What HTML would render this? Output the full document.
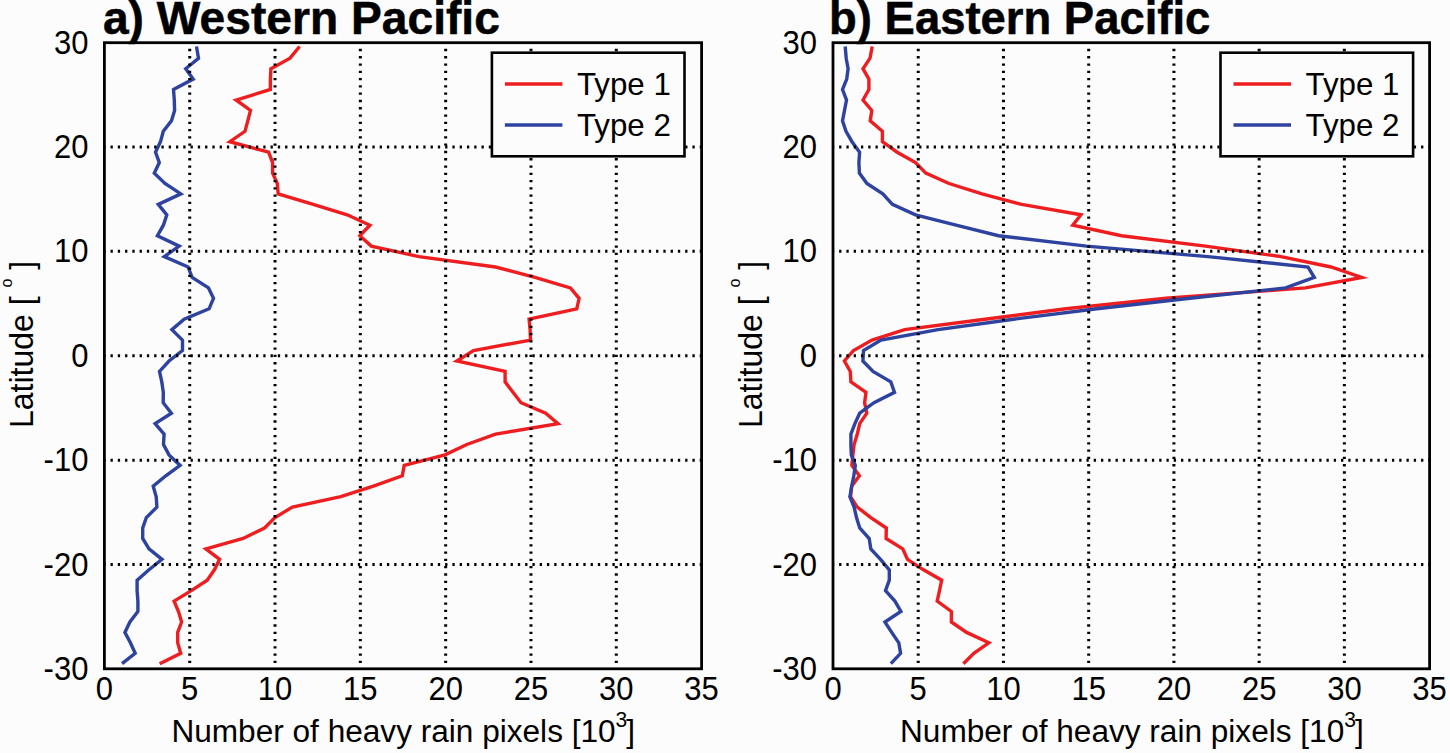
<!DOCTYPE html>
<html><head><meta charset="utf-8"><style>
html,body{margin:0;padding:0;background:#fcfcfc;}
svg{display:block;}
.t{font-family:"Liberation Sans",sans-serif;font-size:30px;fill:#000;}
.sup{font-size:19px;}
.ti{font-family:"Liberation Sans",sans-serif;font-size:43px;font-weight:bold;fill:#000;stroke:#000;stroke-width:0.5px;}
</style></head><body>
<svg width="1450" height="753" viewBox="0 0 1450 753">
<rect width="1450" height="753" fill="#fcfcfc"/>
<polyline points="299.6,46.5 290.0,58.2 270.9,68.7 270.4,79.1 270.4,89.5 236.1,100.0 250.5,110.4 247.8,120.9 245.0,131.3 229.8,141.7 268.6,152.2 272.6,162.6 272.6,173.1 277.3,183.5 278.2,193.9 313.2,204.4 347.2,214.8 369.9,225.2 359.8,235.7 371.3,246.1 419.0,256.6 495.5,267.0 535.0,277.4 570.4,287.9 579.1,298.3 576.8,308.8 529.1,319.2 530.1,329.6 530.5,340.1 473.5,350.5 456.8,361.0 505.1,371.4 505.1,381.9 513.0,392.3 521.0,402.7 545.7,413.2 558.0,423.6 495.5,434.1 466.8,444.5 445.0,454.9 404.2,465.4 402.3,475.8 373.4,486.2 340.8,496.7 292.4,507.1 275.0,517.6 264.5,528.0 243.1,538.5 205.9,548.9 219.6,559.3 214.4,569.8 207.2,580.2 191.3,590.6 174.1,601.1 178.5,611.5 181.6,622.0 177.7,632.4 177.7,642.8 180.7,653.3 159.7,663.7" fill="none" stroke="#ee1d1f" stroke-width="3.4" stroke-linejoin="miter" stroke-miterlimit="10"/>
<polyline points="196.5,46.5 198.5,58.2 185.7,68.7 193.2,79.1 173.5,89.5 174.3,100.0 174.6,110.4 171.4,120.9 163.3,131.3 160.5,141.7 155.5,152.2 159.3,162.6 154.3,173.1 165.0,183.5 180.8,193.9 158.3,204.4 166.8,214.8 163.4,225.2 157.4,235.7 179.2,246.1 164.3,256.6 188.1,267.0 192.1,277.4 208.5,287.9 213.5,298.3 209.1,308.8 184.1,319.2 171.9,329.6 182.5,340.1 182.5,350.5 169.0,361.0 159.5,371.4 161.8,381.9 163.3,392.3 163.2,402.7 171.4,413.2 155.1,423.6 164.1,434.1 163.5,444.5 169.0,454.9 180.1,465.4 165.8,475.8 153.2,486.2 156.2,496.7 156.9,507.1 146.3,517.6 142.7,528.0 142.7,538.5 149.0,548.9 162.0,559.3 149.0,569.8 137.1,580.2 137.1,590.6 137.9,601.1 137.9,611.5 129.9,622.0 124.9,632.4 130.4,642.8 135.2,653.3 122.0,663.7" fill="none" stroke="#2e42a0" stroke-width="3.4" stroke-linejoin="miter" stroke-miterlimit="10"/>
<path d="M104.4,146.95H701.6 M104.4,251.35H701.6 M104.4,355.75H701.6 M104.4,460.15H701.6 M104.4,564.55H701.6" stroke="#000" stroke-width="3.0" stroke-dasharray="2.3 4.974" stroke-dashoffset="1.15" fill="none"/>
<path d="M189.71,42.7V668.8 M275.03,42.7V668.8 M360.34,42.7V668.8 M445.66,42.7V668.8 M530.97,42.7V668.8 M616.29,42.7V668.8" stroke="#000" stroke-width="3.0" stroke-dasharray="2.3 4.985" stroke-dashoffset="1.15" fill="none"/>
<rect x="491.9" y="52.7" width="192.6" height="103.6" fill="#fcfcfc" stroke="#000" stroke-width="2.6"/>
<line x1="504.9" y1="84" x2="562.4" y2="84" stroke="#ee1d1f" stroke-width="3.4"/>
<line x1="504.9" y1="125" x2="562.4" y2="125" stroke="#2e42a0" stroke-width="3.4"/>
<text transform="translate(576.90,95.30) scale(1,1.02)" class="t" style="font-size:31.3px">Type 1</text>
<text transform="translate(576.90,136.30) scale(1,1.02)" class="t" style="font-size:31.3px">Type 2</text>
<rect x="104.4" y="42.7" width="597.2" height="626.1" fill="none" stroke="#000" stroke-width="2.8"/>
<text transform="translate(88.40,53.55) scale(1,1.07)" class="t" style="font-size:31px" text-anchor="end">30</text>
<text transform="translate(88.40,157.95) scale(1,1.07)" class="t" style="font-size:31px" text-anchor="end">20</text>
<text transform="translate(88.40,262.35) scale(1,1.07)" class="t" style="font-size:31px" text-anchor="end">10</text>
<text transform="translate(88.40,366.75) scale(1,1.07)" class="t" style="font-size:31px" text-anchor="end">0</text>
<text transform="translate(88.40,471.15) scale(1,1.07)" class="t" style="font-size:31px" text-anchor="end">-10</text>
<text transform="translate(88.40,575.55) scale(1,1.07)" class="t" style="font-size:31px" text-anchor="end">-20</text>
<text transform="translate(88.40,679.95) scale(1,1.07)" class="t" style="font-size:31px" text-anchor="end">-30</text>
<text transform="translate(104.40,700.30) scale(1,1.07)" class="t" style="font-size:31px" text-anchor="middle">0</text>
<text transform="translate(189.71,700.30) scale(1,1.07)" class="t" style="font-size:31px" text-anchor="middle">5</text>
<text transform="translate(275.03,700.30) scale(1,1.07)" class="t" style="font-size:31px" text-anchor="middle">10</text>
<text transform="translate(360.34,700.30) scale(1,1.07)" class="t" style="font-size:31px" text-anchor="middle">15</text>
<text transform="translate(445.66,700.30) scale(1,1.07)" class="t" style="font-size:31px" text-anchor="middle">20</text>
<text transform="translate(530.97,700.30) scale(1,1.07)" class="t" style="font-size:31px" text-anchor="middle">25</text>
<text transform="translate(616.29,700.30) scale(1,1.07)" class="t" style="font-size:31px" text-anchor="middle">30</text>
<text transform="translate(701.60,700.30) scale(1,1.07)" class="t" style="font-size:31px" text-anchor="middle">35</text>
<text transform="translate(171.40,742.40) scale(1,1.02)" class="t" style="font-size:31.6px">Number of heavy rain pixels [10<tspan dy="-15" style="font-size:21px">3</tspan><tspan dy="15" dx="-1">]</tspan></text>
<text transform="translate(33.0,428.0) rotate(-90) scale(1,1.06)" class="t" style="font-size:32px">Latitude [ <tspan dy="-20" style="font-size:16px">o</tspan><tspan dy="20"> ]</tspan></text>
<text x="102.9" y="34.3" class="ti" style="font-size:46.2px" textLength="397.0" lengthAdjust="spacingAndGlyphs">a) Western Pacific</text>
<polyline points="872.2,46.5 870.0,58.2 863.0,68.7 868.9,79.1 868.9,89.5 863.0,100.0 871.8,110.4 870.2,120.9 882.4,131.3 882.4,141.7 897.2,152.2 915.5,162.6 925.8,173.1 949.0,183.5 982.0,193.9 1021.7,204.4 1080.9,214.8 1072.8,225.2 1121.5,235.7 1205.5,246.1 1281.0,256.6 1331.0,267.0 1361.8,277.4 1305.5,287.9 1166.0,298.3 1066.0,308.8 985.0,319.2 904.6,329.6 872.0,340.1 853.5,350.5 844.4,361.0 850.3,371.4 850.9,381.9 866.0,392.3 864.6,402.7 866.8,413.2 859.7,423.6 857.3,434.1 854.1,444.5 852.9,454.9 851.8,465.4 859.4,475.8 851.7,486.2 850.5,496.7 857.3,507.1 870.8,517.6 886.3,528.0 886.1,538.5 902.7,548.9 907.5,559.3 923.5,569.8 941.7,580.2 939.5,590.6 937.2,601.1 951.4,611.5 951.4,622.0 966.6,632.4 988.8,642.8 973.8,653.3 963.4,663.7" fill="none" stroke="#ee1d1f" stroke-width="3.4" stroke-linejoin="miter" stroke-miterlimit="10"/>
<polyline points="845.2,46.5 846.2,58.2 848.1,68.7 846.7,79.1 842.5,89.5 846.5,100.0 844.5,110.4 842.5,120.9 846.0,131.3 852.0,141.7 859.6,152.2 858.9,162.6 859.4,173.1 866.9,183.5 882.8,193.9 892.4,204.4 915.5,214.8 956.1,225.2 998.5,235.7 1086.5,246.1 1208.0,256.6 1308.0,267.0 1314.3,277.4 1285.6,287.9 1190.0,298.3 1097.0,308.8 1013.5,319.2 938.0,329.6 881.0,340.1 863.5,350.5 862.9,361.0 873.0,371.4 890.8,381.9 894.5,392.3 874.0,402.7 859.7,413.2 854.9,423.6 850.9,434.1 850.9,444.5 851.3,454.9 855.3,465.4 853.8,475.8 851.7,486.2 849.9,496.7 854.1,507.1 856.5,517.6 859.7,528.0 869.2,538.5 870.8,548.9 880.5,559.3 889.3,569.8 889.3,580.2 885.5,590.6 894.9,601.1 900.9,611.5 884.9,622.0 891.7,632.4 898.8,642.8 900.6,653.3 890.9,663.7" fill="none" stroke="#2e42a0" stroke-width="3.4" stroke-linejoin="miter" stroke-miterlimit="10"/>
<path d="M833.0,146.95H1429.6 M833.0,251.35H1429.6 M833.0,355.75H1429.6 M833.0,460.15H1429.6 M833.0,564.55H1429.6" stroke="#000" stroke-width="3.0" stroke-dasharray="2.3 4.974" stroke-dashoffset="1.15" fill="none"/>
<path d="M918.23,42.7V668.8 M1003.46,42.7V668.8 M1088.69,42.7V668.8 M1173.91,42.7V668.8 M1259.14,42.7V668.8 M1344.37,42.7V668.8" stroke="#000" stroke-width="3.0" stroke-dasharray="2.3 4.985" stroke-dashoffset="1.15" fill="none"/>
<rect x="1220.5" y="52.7" width="192.6" height="103.6" fill="#fcfcfc" stroke="#000" stroke-width="2.6"/>
<line x1="1233.5" y1="84" x2="1291.0" y2="84" stroke="#ee1d1f" stroke-width="3.4"/>
<line x1="1233.5" y1="125" x2="1291.0" y2="125" stroke="#2e42a0" stroke-width="3.4"/>
<text transform="translate(1305.50,95.30) scale(1,1.02)" class="t" style="font-size:31.3px">Type 1</text>
<text transform="translate(1305.50,136.30) scale(1,1.02)" class="t" style="font-size:31.3px">Type 2</text>
<rect x="833.0" y="42.7" width="596.6" height="626.1" fill="none" stroke="#000" stroke-width="2.8"/>
<text transform="translate(817.00,53.55) scale(1,1.07)" class="t" style="font-size:31px" text-anchor="end">30</text>
<text transform="translate(817.00,157.95) scale(1,1.07)" class="t" style="font-size:31px" text-anchor="end">20</text>
<text transform="translate(817.00,262.35) scale(1,1.07)" class="t" style="font-size:31px" text-anchor="end">10</text>
<text transform="translate(817.00,366.75) scale(1,1.07)" class="t" style="font-size:31px" text-anchor="end">0</text>
<text transform="translate(817.00,471.15) scale(1,1.07)" class="t" style="font-size:31px" text-anchor="end">-10</text>
<text transform="translate(817.00,575.55) scale(1,1.07)" class="t" style="font-size:31px" text-anchor="end">-20</text>
<text transform="translate(817.00,679.95) scale(1,1.07)" class="t" style="font-size:31px" text-anchor="end">-30</text>
<text transform="translate(833.00,700.30) scale(1,1.07)" class="t" style="font-size:31px" text-anchor="middle">0</text>
<text transform="translate(918.23,700.30) scale(1,1.07)" class="t" style="font-size:31px" text-anchor="middle">5</text>
<text transform="translate(1003.46,700.30) scale(1,1.07)" class="t" style="font-size:31px" text-anchor="middle">10</text>
<text transform="translate(1088.69,700.30) scale(1,1.07)" class="t" style="font-size:31px" text-anchor="middle">15</text>
<text transform="translate(1173.91,700.30) scale(1,1.07)" class="t" style="font-size:31px" text-anchor="middle">20</text>
<text transform="translate(1259.14,700.30) scale(1,1.07)" class="t" style="font-size:31px" text-anchor="middle">25</text>
<text transform="translate(1344.37,700.30) scale(1,1.07)" class="t" style="font-size:31px" text-anchor="middle">30</text>
<text transform="translate(1429.60,700.30) scale(1,1.07)" class="t" style="font-size:31px" text-anchor="middle">35</text>
<text transform="translate(900.00,742.40) scale(1,1.02)" class="t" style="font-size:31.6px">Number of heavy rain pixels [10<tspan dy="-15" style="font-size:21px">3</tspan><tspan dy="15" dx="-1">]</tspan></text>
<text transform="translate(761.6,428.0) rotate(-90) scale(1,1.06)" class="t" style="font-size:32px">Latitude [ <tspan dy="-20" style="font-size:16px">o</tspan><tspan dy="20"> ]</tspan></text>
<text x="829.1" y="34.3" class="ti" style="font-size:46.2px" textLength="381.2" lengthAdjust="spacingAndGlyphs">b) Eastern Pacific</text>
</svg>
</body></html>
